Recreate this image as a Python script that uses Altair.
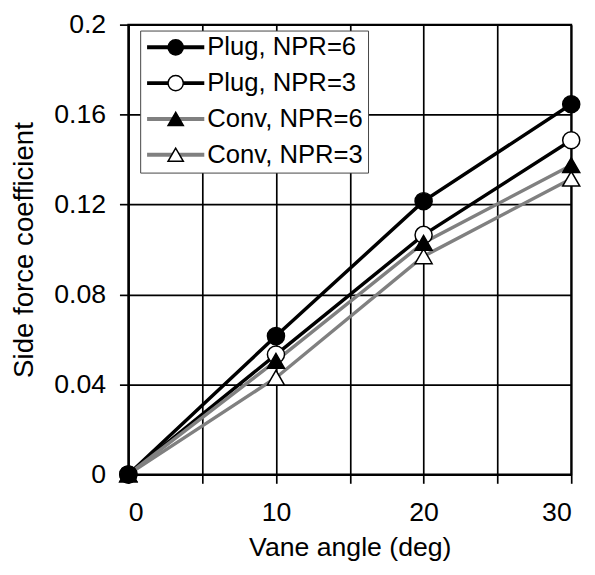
import altair as alt
import pandas as pd

series = ["Plug, NPR=6", "Plug, NPR=3", "Conv, NPR=6", "Conv, NPR=3"]
angles = [0, 10, 20, 30]
plug6 = [0, 0.0615, 0.1215, 0.1646]
plug3 = [0, 0.0533, 0.1065, 0.1486]
conv6 = [0, 0.0505, 0.1030, 0.1375]
conv3 = [0, 0.0430, 0.0970, 0.1315]

x_ticks = [0, 5, 10, 15, 20, 25, 30]
y_ticks = [0, 0.04, 0.08, 0.12, 0.16, 0.2]

line_colors = ["black", "black", "#808080", "#808080"]
marker_shapes = ["circle", "circle", "triangle-up", "triangle-up"]
marker_fills = ["black", "white", "black", "white"]
marker_strokes = ["black", "black", "black", "black"]
marker_sizes = [300, 300, 420, 420]

values = {"Plug, NPR=6": plug6, "Plug, NPR=3": plug3,
          "Conv, NPR=6": conv6, "Conv, NPR=3": conv3}

# separate keys so the legends are not merged with each other
marker_keys = ["m:" + s for s in series]
size_keys = ["s:" + s for s in series]

rows = []
for s, mk, sk in zip(series, marker_keys, size_keys):
    for a, v in zip(angles, values[s]):
        rows.append({"series": s, "marker": mk, "sizekey": sk, "angle": a, "value": v})
df = pd.DataFrame(rows)

# drawing order for markers
draw_order = ["Conv, NPR=3", "Plug, NPR=3", "Conv, NPR=6", "Plug, NPR=6"]
df_pts = pd.concat([df[df.series == s] for s in draw_order], ignore_index=True)

FONT = "Liberation Sans"

x_enc = alt.X(
    "angle:Q",
    scale=alt.Scale(domain=[0, 30], nice=False, zero=False),
    axis=alt.Axis(
        values=x_ticks,
        labelExpr="datum.value % 10 === 0 ? datum.label : ''",
        title="Vane angle (deg)",
        grid=True, gridColor="black", gridWidth=1.7, gridOpacity=1,
        tickColor="black", tickSize=9, tickWidth=1.7,
        domainColor="black", domainWidth=2,
        labelFont=FONT, labelFontSize=27, labelColor="black", labelPadding=17,
        labelOverlap=False,
        titleFont=FONT, titleFontSize=27, titleFontWeight="normal",
        titleColor="black", titlePadding=9,
    ),
)
y_enc = alt.Y(
    "value:Q",
    scale=alt.Scale(domain=[0, 0.2], nice=False),
    axis=alt.Axis(
        values=y_ticks,
        format=".2~f",
        title="Side force coefficient",
        grid=True, gridColor="black", gridWidth=1.7, gridOpacity=1,
        tickColor="black", tickSize=9, tickWidth=1.7,
        domainColor="black", domainWidth=2,
        labelFont=FONT, labelFontSize=27, labelColor="black", labelPadding=14,
        labelOverlap=False,
        titleFont=FONT, titleFontSize=28, titleFontWeight="normal",
        titleColor="black", titlePadding=16,
    ),
)

legend_common = dict(
    title=None, orient="none", legendX=12, legendY=6,
    labelFont=FONT, labelFontSize=26, labelColor="black",
    padding=5, clipHeight=24, rowPadding=10.3,
)

lines = alt.Chart(df).mark_line(strokeWidth=3.5).encode(
    x=x_enc,
    y=y_enc,
    detail="series:N",
    color=alt.Color(
        "series:N",
        scale=alt.Scale(domain=series, range=line_colors),
        legend=alt.Legend(
            symbolType="stroke", symbolSize=3364, symbolStrokeWidth=4,
            labelOffset=1, zindex=1,
            fillColor="white", strokeColor="#444",
            **legend_common,
        ),
    ),
)

marker_legend = alt.Legend(
    symbolSize=240, symbolStrokeWidth=1.5, symbolStrokeColor="black",
    symbolOffset=18, labelOffset=1, labelExpr="''", zindex=2,
    **legend_common,
)

pts = alt.Chart(df_pts).mark_point(filled=True, strokeWidth=1.5, opacity=1).encode(
    x=x_enc,
    y=y_enc,
    shape=alt.Shape(
        "marker:N",
        scale=alt.Scale(domain=marker_keys, range=marker_shapes),
        legend=marker_legend,
    ),
    fill=alt.Fill(
        "marker:N",
        scale=alt.Scale(domain=marker_keys, range=marker_fills),
        legend=marker_legend,
    ),
    stroke=alt.Stroke(
        "marker:N",
        scale=alt.Scale(domain=marker_keys, range=marker_strokes),
        legend=marker_legend,
    ),
    size=alt.Size(
        "sizekey:N",
        scale=alt.Scale(domain=size_keys, range=marker_sizes),
        legend=None,
    ),
)

chart = alt.layer(lines, pts).properties(
    width=449, height=456,
    autosize=alt.AutoSizeParams(type="none"),
    padding={"left": 122, "top": 13, "right": 16, "bottom": 90},
    background="white",
).configure_view(stroke="black", strokeWidth=2)

chart.save("out.html", embed_options={"renderer": "svg", "actions": False})
